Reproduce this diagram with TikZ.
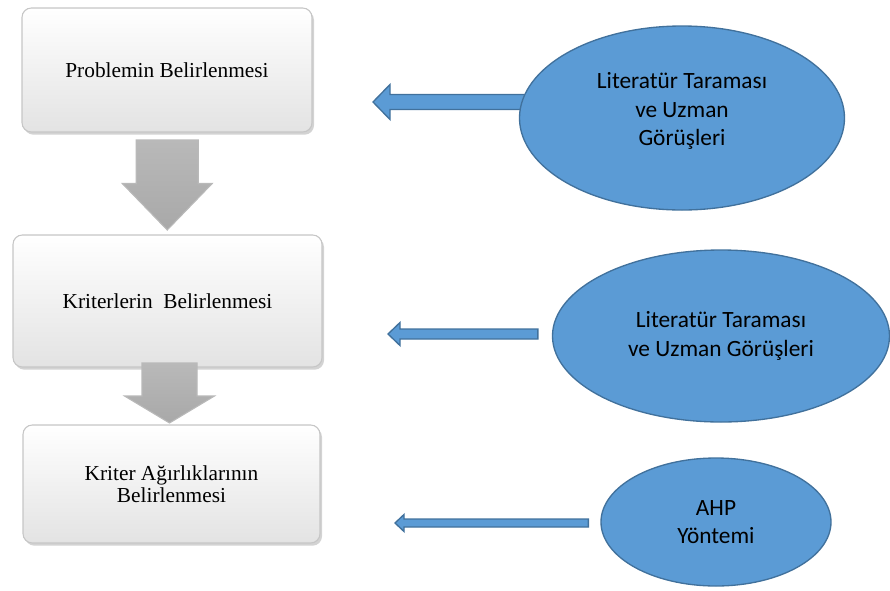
\documentclass[tikz,border=0pt]{standalone}
\usepackage{fontspec}
\setmainfont{Liberation Serif}
\newfontfamily\calfont{Carlito}
\usetikzlibrary{shapes.geometric,calc,shadows,backgrounds}
\definecolor{OfficeBlue}{RGB}{91,155,213}
\definecolor{OfficeBlueDark}{RGB}{65,113,156}
\newcommand{\pxu}{0.75pt}
\tikzset{
  stepbox/.style={draw=gray!45, line width=0.8pt, rounded corners=7pt, top color=white, bottom color=gray!22,
    align=center, font=\fontsize{16}{16.5}\selectfont,
    drop shadow={opacity=0.35, shadow xshift=1.5pt, shadow yshift=-2pt}},
  srcell/.style={ellipse, draw=OfficeBlueDark, fill=OfficeBlue, line width=1pt, inner sep=0pt,
    align=center, font=\calfont\fontsize{17.5}{21.5}\selectfont},
  bluearr/.style={draw=OfficeBlueDark, fill=OfficeBlue, line width=1pt, line join=miter},
  grayarr/.style={draw=gray!55, top color=gray!55, bottom color=gray!68, line width=0.8pt},
}
\begin{document}
\begin{tikzpicture}[x=\pxu, y=-\pxu]
  \useasboundingbox (0,0) rectangle (890,590);
  % steps on the left
  \node[stepbox, minimum width=290*\pxu, minimum height=124*\pxu] (prob) at (167,70) {Problemin Belirlenmesi};
  \node[stepbox, minimum width=309*\pxu, minimum height=132*\pxu] (crit) at (167.5,301) {Kriterlerin~ Belirlenmesi};
  \node[stepbox, minimum width=297*\pxu, minimum height=118*\pxu] (weight) at (171.5,484) {Kriter Ağırlıklarının\\Belirlenmesi};
  % sources on the right
  \node[srcell, minimum width=325*\pxu, minimum height=184*\pxu] (lit1) at (682,118) {Literatür Taraması\\ve Uzman\\Görüşleri\\[-8pt]\mbox{}};
  \node[srcell, minimum width=337*\pxu, minimum height=172*\pxu] (lit2) at (721,336) {Literatür Taraması\\ve Uzman Görüşleri};
  \node[srcell, minimum width=230*\pxu, minimum height=128*\pxu] (ahp) at (716,522) {AHP\\Yöntemi};
  % gray block arrows between the steps
  \coordinate (m1) at ($(prob.south)!0.5!(crit.north)$);
  \coordinate (m2) at ($(crit.south)!0.5!(weight.north)$);
  \draw[grayarr, shift={(m1)}] (-31,-43.5) -- (31,-43.5) -- (31,0) -- (45,0) -- (0,46.5) -- (-45,0) -- (-31,0) -- cycle;
  \draw[grayarr, shift={(m2)}] (-27.5,-33) -- (27.5,-33) -- (27.5,0) -- (45,0) -- (0,27) -- (-45,0) -- (-27.5,0) -- cycle;
  % blue arrows from the sources
  \coordinate (t1) at (373,102);
  \coordinate (t2) at (388,334);
  \coordinate (t3) at (395,523);
  \begin{scope}[on background layer]
    \draw[bluearr] ($(lit1.center |- t1)+(0,-7.5)$) -- ($(t1)+(17,-7.5)$) -- ($(t1)+(17,-17.5)$) -- (t1)
      -- ($(t1)+(17,17.5)$) -- ($(t1)+(17,7.5)$) -- ($(lit1.center |- t1)+(0,7.5)$) -- cycle;
  \end{scope}
  \draw[bluearr] ($(lit2.west |- t2)+(-14,-5)$) -- ($(t2)+(12,-5)$) -- ($(t2)+(12,-11.5)$) -- (t2)
    -- ($(t2)+(12,11.5)$) -- ($(t2)+(12,5)$) -- ($(lit2.west |- t2)+(-14,5)$) -- cycle;
  \draw[bluearr] ($(ahp.west |- t3)+(-12,-4)$) -- ($(t3)+(9,-4)$) -- ($(t3)+(9,-8.5)$) -- (t3)
    -- ($(t3)+(9,8.5)$) -- ($(t3)+(9,4)$) -- ($(ahp.west |- t3)+(-12,4)$) -- cycle;
\end{tikzpicture}
\end{document}
